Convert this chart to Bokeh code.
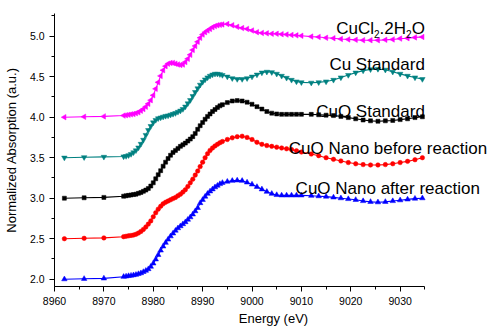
import math
from bokeh.plotting import figure
from bokeh.models import Label, Range1d, SingleIntervalTicker, NumeralTickFormatter, Title
from bokeh.embed import file_html
from bokeh.resources import INLINE

# Energy grid (eV)
energy = [8962, 8966, 8970, 8974,
          8974.5, 8975, 8975.5, 8976, 8976.5, 8977, 8977.5, 8978, 8978.5, 8979,
          8979.5, 8980, 8980.5, 8981, 8981.5, 8982, 8982.5, 8983, 8983.5, 8984,
          8984.5, 8985, 8985.5, 8986, 8986.5, 8987, 8987.5, 8988, 8988.5, 8989,
          8989.5, 8990, 8990.5, 8991, 8991.5, 8992, 8992.5, 8993, 8993.5, 8994,
          8995, 8996, 8997, 8998, 8999, 9000, 9001, 9002, 9003, 9004, 9005, 9006,
          9007, 9008, 9009, 9010,
          9012, 9013.5, 9015, 9016.5, 9018, 9019.5, 9021, 9022.5, 9024, 9025.5,
          9027, 9028.5, 9030, 9031.5, 9033, 9034.5]

cuo_nano_after = [2.00, 2.005, 2.01, 2.03,
    2.035, 2.04, 2.045, 2.05, 2.055, 2.065, 2.075, 2.09, 2.105, 2.125,
    2.155, 2.195, 2.245, 2.30, 2.355, 2.405, 2.45, 2.49, 2.53, 2.565,
    2.60, 2.63, 2.655, 2.68, 2.705, 2.735, 2.765, 2.80, 2.84, 2.88,
    2.94, 2.98, 3.02, 3.055, 3.085, 3.11, 3.135, 3.155, 3.175, 3.19,
    3.205, 3.215, 3.22, 3.215, 3.195, 3.17, 3.14, 3.11, 3.08, 3.055, 3.04, 3.035,
    3.035, 3.035, 3.035, 3.035,
    3.03, 3.025, 3.02, 3.01, 3.0, 2.99, 2.98, 2.965, 2.955, 2.95,
    2.955, 2.965, 2.975, 2.985, 2.995, 3.0]

cuo_nano_before = [2.50, 2.505, 2.51, 2.525,
    2.53, 2.535, 2.54, 2.545, 2.555, 2.57, 2.59, 2.615, 2.645, 2.68,
    2.72, 2.77, 2.82, 2.865, 2.90, 2.93, 2.95, 2.965, 2.98, 2.995,
    3.01, 3.03, 3.05, 3.075, 3.105, 3.145, 3.19, 3.235, 3.285, 3.335,
    3.39, 3.445, 3.50, 3.55, 3.59, 3.62, 3.645, 3.665, 3.685, 3.70,
    3.725, 3.745, 3.76, 3.765, 3.75, 3.725, 3.69, 3.665, 3.65, 3.64, 3.63, 3.62,
    3.61, 3.60, 3.585, 3.57,
    3.545, 3.525, 3.50, 3.48, 3.46, 3.44, 3.425, 3.415, 3.41, 3.41,
    3.415, 3.425, 3.44, 3.455, 3.475, 3.50]

cuo_standard = [3.00, 3.005, 3.01, 3.025,
    3.03, 3.035, 3.04, 3.045, 3.05, 3.06, 3.07, 3.085, 3.10, 3.12,
    3.15, 3.19, 3.24, 3.29, 3.34, 3.395, 3.445, 3.49, 3.53, 3.565,
    3.59, 3.615, 3.64, 3.66, 3.68, 3.705, 3.73, 3.76, 3.80, 3.85,
    3.895, 3.935, 3.975, 4.01, 4.04, 4.07, 4.095, 4.12, 4.14, 4.155,
    4.18, 4.20, 4.205, 4.20, 4.185, 4.16, 4.13, 4.10, 4.07, 4.05, 4.04, 4.035,
    4.035, 4.035, 4.035, 4.035,
    4.035, 4.03, 4.025, 4.02, 4.01, 3.995, 3.98, 3.965, 3.955, 3.95,
    3.955, 3.96, 3.97, 3.98, 3.995, 4.005]

cu_standard = [3.50, 3.505, 3.51, 3.515,
    3.52, 3.53, 3.545, 3.565, 3.59, 3.625, 3.67, 3.72, 3.78, 3.84,
    3.89, 3.935, 3.965, 3.985, 3.995, 4.005, 4.015, 4.02, 4.03, 4.04,
    4.05, 4.065, 4.08, 4.10, 4.13, 4.17, 4.21, 4.26, 4.31, 4.355,
    4.40, 4.435, 4.465, 4.49, 4.51, 4.525, 4.535, 4.535, 4.53, 4.52,
    4.50, 4.48, 4.47, 4.47, 4.48, 4.50, 4.525, 4.55, 4.56, 4.555, 4.535, 4.51,
    4.485, 4.46, 4.44, 4.43,
    4.425, 4.43, 4.44, 4.46, 4.49, 4.52, 4.55, 4.575, 4.59, 4.595,
    4.585, 4.56, 4.535, 4.51, 4.49, 4.47]

cucl2 = [4.00, 4.005, 4.01, 4.02,
    4.025, 4.03, 4.035, 4.04, 4.05, 4.06, 4.08, 4.10, 4.13, 4.165,
    4.21, 4.27, 4.35, 4.43, 4.51, 4.58, 4.63, 4.66, 4.67, 4.67,
    4.66, 4.65, 4.645, 4.65, 4.68, 4.72, 4.77, 4.83, 4.88, 4.93,
    4.98, 5.02, 5.05, 5.07, 5.09, 5.11, 5.125, 5.135, 5.14, 5.145,
    5.15, 5.135, 5.115, 5.10, 5.09, 5.07, 5.05, 5.04, 5.035, 5.03, 5.03, 5.025,
    5.02, 5.015, 5.01, 5.005,
    4.995, 4.99, 4.98, 4.975, 4.965, 4.96, 4.955, 4.95, 4.95, 4.95,
    4.955, 4.96, 4.97, 4.975, 4.985, 4.99]

x_ticks_end = 9035

FONT = "Liberation Sans"

# frame spans to the right edge so labels are not clipped; the axis stops at 9035
p = figure(width=492, height=327, output_backend="svg", toolbar_location=None,
           x_range=Range1d(8960, 9048.7), y_range=Range1d(1.91, 5.28),
           min_border_left=53, min_border_right=0, min_border_top=13,
           min_border_bottom=41)
p.outline_line_color = None
p.xgrid.visible = False
p.ygrid.visible = False
p.background_fill_color = "white"
p.border_fill_color = "white"

p.xaxis.ticker = SingleIntervalTicker(interval=10, num_minor_ticks=2)
p.yaxis.ticker = SingleIntervalTicker(interval=0.5, num_minor_ticks=2)
p.xaxis.bounds = (8960, x_ticks_end)
p.yaxis.formatter = NumeralTickFormatter(format="0.0")
p.yaxis.axis_label = "Normalized Absorption (a.u.)"
for ax in (p.xaxis, p.yaxis):
    ax.axis_line_color = "black"
    ax.axis_line_width = 1
    ax.major_tick_line_color = "black"
    ax.minor_tick_line_color = "black"
    ax.major_tick_out = 5
    ax.major_tick_in = 0
    ax.minor_tick_out = 3
    ax.minor_tick_in = 0
    ax.major_label_text_font = FONT
    ax.major_label_text_font_size = "10.5px"
    ax.major_label_text_color = "black"
    ax.axis_label_text_font = FONT
    ax.axis_label_text_font_size = "13px"
    ax.axis_label_text_font_style = "normal"
    ax.axis_label_text_color = "black"
p.xaxis.major_label_standoff = 5
p.yaxis.major_label_standoff = 5
p.yaxis.axis_label_standoff = 8

# x-axis title centred under the drawn axis (frame centre is further right)
xt = Title(text="Energy (eV)", align="center", offset=-32.5, standoff=2,
           text_font=FONT, text_font_size="13px", text_font_style="normal",
           text_color="black")
p.add_layout(xt, "below")

series = [
    (cuo_nano_after, "#0000FF", "triangle", 5.5, 0.0),
    (cuo_nano_before, "#FF0000", "circle", 4.5, 0.0),
    (cuo_standard, "#000000", "square", 4, 0.0),
    (cu_standard, "#008080", "inverted_triangle", 5.5, 0.0),
    (cucl2, "#FF00FF", "triangle", 5.5, math.pi / 2),
]
for ys, col, mk, sz, ang in series:
    p.line(energy, ys, line_color=col, line_width=1.1)
    p.scatter(energy, ys, marker=mk, size=sz, angle=ang, fill_color=col,
              line_color=col, line_width=0.5)

def lab(text, x, y, align="left", size="17px", xo=0):
    p.add_layout(Label(x=x, y=y, text=text, text_font=FONT, text_font_size=size,
                       text_align=align, text_baseline="alphabetic",
                       text_color="black", x_offset=xo))

# CuCl2.2H2O with subscripts
lab("O", 9035, 5.091, "right", "17px", 0)
lab("2", 9035, 5.03, "right", "10px", -13.2)
lab(".2H", 9035, 5.091, "right", "17px", -18.8)
lab("2", 9035, 5.03, "right", "10px", -45.3)
lab("CuCl", 9035, 5.091, "right", "17px", -50.9)
lab("Cu Standard", 9035, 4.647, "right")
lab("CuO Standard", 9035, 4.070, "right")
lab("CuO Nano before reaction", 9007.45, 3.61, "left")
lab("CuO Nano after reaction", 9008.83, 3.123, "left")

open("out.html", "w").write(file_html(p, INLINE))
